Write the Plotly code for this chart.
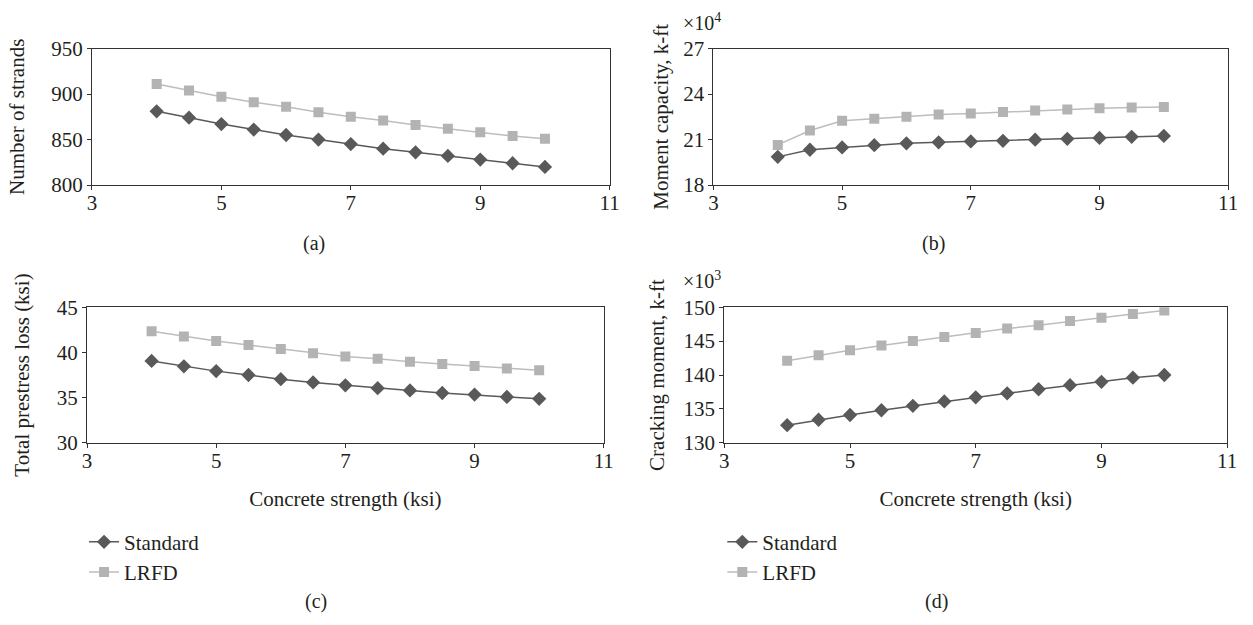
import plotly.graph_objects as go

strength = [4, 4.5, 5, 5.5, 6, 6.5, 7, 7.5, 8, 8.5, 9, 9.5, 10]

strands_std = [881, 874, 867, 861, 855, 850, 845, 840, 836, 832, 828, 824, 820]
strands_lrfd = [911, 904, 897, 891, 886, 880, 875, 871, 866, 862, 858, 854, 851]

moment_std = [19.86, 20.33, 20.48, 20.63, 20.75, 20.82, 20.88, 20.92, 20.99, 21.05, 21.11, 21.18, 21.24]
moment_lrfd = [20.65, 21.6, 22.24, 22.38, 22.51, 22.66, 22.72, 22.81, 22.91, 22.98, 23.06, 23.12, 23.15]

loss_std = [39.06, 38.46, 37.93, 37.5, 37.04, 36.68, 36.36, 36.04, 35.79, 35.51, 35.33, 35.08, 34.87]
loss_lrfd = [42.33, 41.77, 41.27, 40.81, 40.38, 39.92, 39.56, 39.31, 38.96, 38.71, 38.49, 38.21, 38.03]

crack_std = [132.6, 133.4, 134.1, 134.8, 135.45, 136.1, 136.7, 137.3, 137.9, 138.5, 139.0, 139.6, 140.0]
crack_lrfd = [142.1, 142.9, 143.65, 144.35, 145.0, 145.6, 146.2, 146.85, 147.35, 147.95, 148.45, 149.0, 149.5]

x_ticks = [3, 5, 7, 9, 11]
y_ticks_a = [800, 850, 900, 950]
y_ticks_b = [18, 21, 24, 27]
y_ticks_c = [30, 35, 40, 45]
y_ticks_d = [130, 135, 140, 145, 150]

W, H = 1253, 625
FONT = "Liberation Serif"
TXT = "#231f20"
STD_C = "#595959"
LRFD_C = "#b3b3b3"
LRFD_LINE = "#bdbdbd"
FS = 21

fig = go.Figure()

panels = [
    ("x", "y", strands_std, strands_lrfd, False, None),
    ("x2", "y2", moment_std, moment_lrfd, False, None),
    ("x3", "y3", loss_std, loss_lrfd, True, "legend"),
    ("x4", "y4", crack_std, crack_lrfd, True, "legend2"),
]
for xa, ya, s, l, show, leg in panels:
    kw = {}
    if leg:
        kw["legend"] = leg
    fig.add_trace(go.Scatter(
        x=strength, y=s, mode="lines+markers", name="Standard",
        xaxis=xa, yaxis=ya, showlegend=show,
        line=dict(color=STD_C, width=1.5),
        marker=dict(symbol="diamond", size=11, color=STD_C), **kw))
    fig.add_trace(go.Scatter(
        x=strength, y=l, mode="lines+markers", name="LRFD",
        xaxis=xa, yaxis=ya, showlegend=show,
        line=dict(color=LRFD_LINE, width=1.5),
        marker=dict(symbol="square", size=10, color=LRFD_C), **kw))


def px_x(a, b):
    return [a / W, b / W]


def px_y(top, bottom):
    return [1 - bottom / H, 1 - top / H]


axis_common = dict(
    showline=True, linecolor="#333333", linewidth=1, mirror=True,
    showgrid=False, zeroline=False, ticks="outside", ticklen=4,
    tickcolor="#333333", tickfont=dict(family=FONT, size=FS, color=TXT),
)

xa_common = dict(axis_common, range=[3, 11], tickvals=x_ticks, ticklabelstandoff=-5)


def title(t, so):
    return dict(text=t, standoff=so, font=dict(family=FONT, size=FS, color=TXT))


fig.update_layout(
    width=W, height=H,
    margin=dict(l=0, r=0, t=0, b=0),
    paper_bgcolor="white", plot_bgcolor="white",
    font=dict(family=FONT, size=FS, color=TXT),
    xaxis=dict(xa_common, domain=px_x(88, 612), anchor="y"),
    yaxis=dict(axis_common, domain=px_y(38, 180), range=[800, 950], tickvals=y_ticks_a,
               anchor="x", title=title("Number of strands", 20)),
    xaxis2=dict(xa_common, domain=px_x(717, 1238), anchor="y2"),
    yaxis2=dict(axis_common, domain=px_y(38, 180), range=[18, 27], tickvals=y_ticks_b,
                anchor="x2", title=title("Moment capacity, k-ft", 8)),
    xaxis3=dict(xa_common, domain=px_x(83, 606), anchor="y3",
                title=title("Concrete strength (ksi)", 19)),
    yaxis3=dict(axis_common, domain=px_y(307, 448), range=[30, 45], tickvals=y_ticks_c,
                anchor="x3", title=title("Total prestress loss (ksi)", 21)),
    xaxis4=dict(xa_common, domain=px_x(728, 1237), anchor="y4",
                title=title("Concrete strength (ksi)", 19)),
    yaxis4=dict(axis_common, domain=px_y(307, 448), range=[130, 150], tickvals=y_ticks_d,
                anchor="x4", title=title("Cracking moment, k-ft", 13)),
    legend=dict(x=80 / W, y=1 - 530 / H, xanchor="left", yanchor="top",
                bgcolor="rgba(0,0,0,0)", font=dict(family=FONT, size=FS, color=TXT),
                itemwidth=30, tracegroupgap=0),
    legend2=dict(x=726 / W, y=1 - 530 / H, xanchor="left", yanchor="top",
                 bgcolor="rgba(0,0,0,0)", font=dict(family=FONT, size=FS, color=TXT),
                 itemwidth=30, tracegroupgap=0),
)

annots = [
    ("(a)", 313, 241), ("(b)", 940, 241), ("(c)", 315, 613), ("(d)", 943, 613),
]
for t, x, y in annots:
    fig.add_annotation(text=t, x=x / W, y=1 - y / H, xref="paper", yref="paper",
                       showarrow=False, xanchor="center", yanchor="middle",
                       font=dict(family=FONT, size=FS - 1, color=TXT))

for t, x, y in [("×10<sup>4</sup>", 684, 10), ("×10<sup>3</sup>", 684, 279)]:
    fig.add_annotation(text=t, x=x / W, y=1 - y / H, xref="paper", yref="paper",
                       showarrow=False, xanchor="left", yanchor="middle",
                       font=dict(family=FONT, size=FS - 1, color=TXT))

fig.write_html("out.html")
